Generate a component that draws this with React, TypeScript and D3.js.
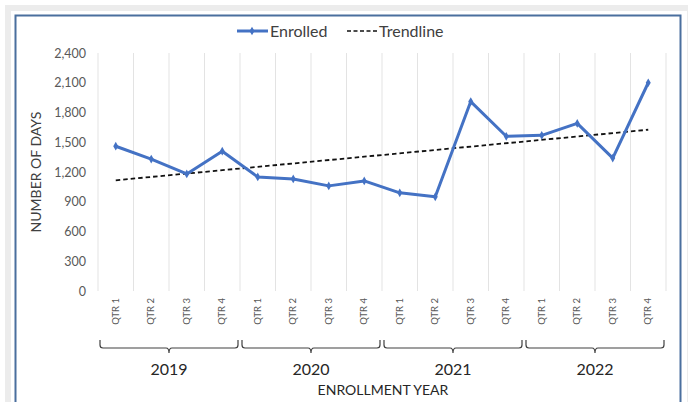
import * as d3 from 'd3';
import React from 'react';

const years = ['2019', '2020', '2021', '2022'];
const quarters = ['QTR 1', 'QTR 2', 'QTR 3', 'QTR 4'];
const enrolled = [
  1460, 1330, 1180, 1410,
  1150, 1130, 1060, 1110,
  990, 950, 1910, 1560,
  1570, 1690, 1340, 2100,
];
const yTicks = [0, 300, 600, 900, 1200, 1500, 1800, 2100, 2400];

const W = 688;
const H = 402;
const FONT = 'Lato, "Open Sans", sans-serif';

function App() {
  const cats = years.flatMap((y) => quarters.map((q) => y + '|' + q));
  const x = d3.scaleBand().domain(cats).range([98, 666]);
  const y = d3.scaleLinear().domain([0, 2400]).range([291, 53]);
  const cx = (i) => x(cats[i]) + x.bandwidth() / 2;

  // linear trendline (least squares)
  const n = enrolled.length;
  const mx = d3.mean(enrolled, (_, i) => i);
  const my = d3.mean(enrolled);
  const slope = d3.sum(enrolled, (v, i) => (i - mx) * (v - my)) / d3.sum(enrolled, (_, i) => (i - mx) ** 2);
  const trend = [0, n - 1].map((i) => [cx(i), y(my + slope * (i - mx))]);

  const line = d3.line().x((d, i) => cx(i)).y((d) => y(d));
  const diamond = d3.symbol().type(d3.symbolDiamond).size(22);

  const bracket = (x0, x1) => {
    const m = (x0 + x1) / 2;
    const t = 340, b = 348, r = 3;
    return `M${x0},${t} L${x0},${b - r} Q${x0},${b} ${x0 + r},${b} L${m - r},${b} Q${m},${b} ${m},${b + 5} Q${m},${b} ${m + r},${b} L${x1 - r},${b} Q${x1},${b} ${x1},${b - r} L${x1},${t}`;
  };

  return (
    <svg width={W} height={H} style={{ position: 'absolute', left: 0, top: 0, fontFamily: FONT }}>
      <rect x={0} y={0} width={W} height={H} fill="#fff" />
      <rect x={8} y={8} width={682} height={400} fill="none" stroke="#ececec" strokeWidth={6} />
      <rect x={15.5} y={15.5} width={665} height={400} fill="#fff" stroke="#4a6f9e" strokeWidth={2} />

      {/* vertical gridlines */}
      {d3.range(n + 1).map((i) => {
        const gx = 98 + i * x.bandwidth();
        return <line key={i} x1={gx} x2={gx} y1={53} y2={291} stroke="#e3e3e3" strokeWidth={1} />;
      })}

      {/* y ticks */}
      {yTicks.map((t) => (
        <text key={t} x={86} y={y(t) + 4.5} textAnchor="end" fontSize={12.5} fill="#595959">
          {d3.format(',')(t)}
        </text>
      ))}
      <text transform="translate(41,172) rotate(-90)" textAnchor="middle" fontSize={14} fill="#404040">
        NUMBER OF DAYS
      </text>

      {/* trendline */}
      <line x1={trend[0][0]} y1={trend[0][1]} x2={trend[1][0]} y2={trend[1][1]}
        stroke="#111" strokeWidth={1.8} strokeDasharray="4.5,3" />

      {/* series */}
      <path d={line(enrolled)} fill="none" stroke="#4472c4" strokeWidth={3} strokeLinejoin="round" />
      {enrolled.map((v, i) => (
        <path key={i} d={diamond()} transform={`translate(${cx(i)},${y(v)})`} fill="#4472c4" />
      ))}

      {/* quarter labels */}
      {cats.map((c, i) => (
        <text key={c} transform={`translate(${cx(i) + 3},298) rotate(-90)`} textAnchor="end"
          fontSize={9.5} fill="#595959">
          {c.split('|')[1]}
        </text>
      ))}

      {/* year brackets */}
      {years.map((yr, k) => {
        const x0 = 98 + k * 4 * x.bandwidth() + 2;
        const x1 = 98 + (k + 1) * 4 * x.bandwidth() - 2;
        return (
          <g key={yr}>
            <path d={bracket(x0, x1)} fill="none" stroke="#404040" strokeWidth={1.2} />
            <text x={(x0 + x1) / 2} y={375} textAnchor="middle" fontSize={16} fill="#262626">{yr}</text>
          </g>
        );
      })}
      <text x={383} y={395} textAnchor="middle" fontSize={14} fill="#262626">ENROLLMENT YEAR</text>

      {/* legend */}
      <line x1={237} x2={268} y1={31} y2={31} stroke="#4472c4" strokeWidth={3} />
      <path d={diamond()} transform="translate(252,31)" fill="#4472c4" />
      <text x={270} y={37} fontSize={16} fill="#404040">Enrolled</text>
      <line x1={347} x2={377} y1={31} y2={31} stroke="#111" strokeWidth={1.6} strokeDasharray="4,2.5" />
      <text x={379} y={37} fontSize={16} fill="#404040">Trendline</text>
    </svg>
  );
}

export default App;
